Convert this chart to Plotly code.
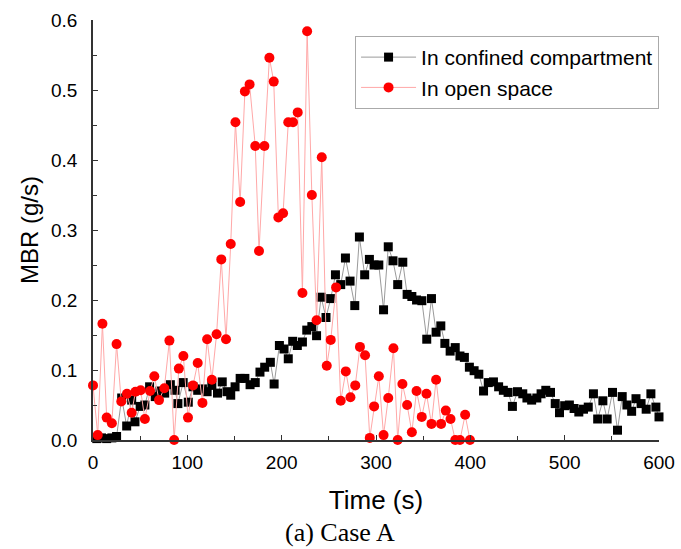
import plotly.graph_objects as go

# In confined compartment (black squares)
t_conf = [4, 9, 14.5, 20, 25, 30.4, 35.7, 41, 44.5, 50, 55, 60, 66, 71, 76, 82, 87, 90, 95.6, 101,
          106, 111, 116, 121, 126, 132, 137, 142, 146, 150.6, 156, 161, 166.5, 172, 177, 182, 188,
          192, 197.6, 202.5, 207, 211.7, 216.6, 222, 226.6, 232, 237, 241.8, 247, 252, 257, 262.6,
          267.6, 272.5, 277.5, 282.4, 288, 293, 298, 303, 308, 313, 318, 323, 328.4, 333, 338, 343,
          348.6, 353.8, 358.8, 363.7, 368.7, 373, 378.6, 384, 389, 393.7, 399, 404, 409, 414, 419,
          424.5, 430, 435, 440, 444.6, 450, 455.6, 460, 465, 470.5, 475, 480, 485, 490, 494.5, 500,
          505, 510, 515, 520, 525, 530.5, 535, 540.5, 545, 550.7, 556, 561, 566, 571, 575.6, 581,
          586.4, 591.4, 596.7, 600]
m_conf = [0.002, 0.003, 0.002, 0.003, 0.005, 0.060, 0.020, 0.057, 0.026, 0.048, 0.050, 0.076, 0.062,
          0.070, 0.067, 0.079, 0.071, 0.052, 0.082, 0.054, 0.076, 0.071, 0.073, 0.069, 0.078, 0.067,
          0.083, 0.069, 0.064, 0.076, 0.088, 0.088, 0.079, 0.082, 0.097, 0.104, 0.111, 0.080, 0.135,
          0.130, 0.116, 0.141, 0.135, 0.140, 0.157, 0.162, 0.149, 0.204, 0.175, 0.202, 0.236, 0.222,
          0.260, 0.227, 0.192, 0.290, 0.236, 0.258, 0.250, 0.250, 0.186, 0.276, 0.256, 0.222, 0.254,
          0.208, 0.205, 0.200, 0.199, 0.144, 0.202, 0.154, 0.163, 0.138, 0.127, 0.132, 0.120, 0.118,
          0.104, 0.099, 0.094, 0.070, 0.082, 0.083, 0.076, 0.071, 0.068, 0.048, 0.069, 0.066, 0.060,
          0.057, 0.060, 0.066, 0.071, 0.068, 0.052, 0.039, 0.049, 0.050, 0.045, 0.040, 0.044, 0.047,
          0.066, 0.030, 0.056, 0.030, 0.068, 0.014, 0.062, 0.050, 0.041, 0.059, 0.052, 0.044, 0.066,
          0.047, 0.033]

# In open space (red circles)
t_open = [0, 5, 10, 14.5, 20, 25, 30, 36, 41, 45, 50.5, 55, 60.5, 65, 70, 75.6, 81, 86, 91, 95.8,
          100.7, 106, 111, 116, 121, 126, 131, 136, 141, 146, 151, 156, 161, 166, 172, 176, 181.7,
          187, 191.6, 196.5, 201.5, 207, 212, 217, 222, 227, 232, 237, 242.5, 247.8, 252, 257.7,
          262.6, 268, 272.9, 278, 283, 288.4, 293.4, 298, 303, 308, 313, 318.5, 323, 328, 333, 338,
          343, 348.5, 353.5, 358.8, 363.7, 369, 374, 379, 384, 389, 394.5, 399.6]
m_open = [0.078, 0.007, 0.166, 0.032, 0.024, 0.137, 0.055, 0.066, 0.039, 0.069, 0.071, 0.030, 0.070,
          0.091, 0.057, 0.074, 0.142, 0.000, 0.102, 0.120, 0.032, 0.078, 0.110, 0.053, 0.144, 0.086,
          0.151, 0.258, 0.144, 0.280, 0.454, 0.340, 0.498, 0.508, 0.420, 0.270, 0.420, 0.546, 0.512,
          0.318, 0.324, 0.454, 0.454, 0.468, 0.210, 0.584, 0.350, 0.171, 0.404, 0.106, 0.143, 0.218,
          0.056, 0.098, 0.061, 0.078, 0.133, 0.121, 0.003, 0.048, 0.091, 0.007, 0.060, 0.131, 0.000,
          0.080, 0.050, 0.011, 0.070, 0.033, 0.066, 0.023, 0.086, 0.023, 0.042, 0.030, 0.000, 0.000,
          0.036, 0.000]

x_ticks = [0, 100, 200, 300, 400, 500, 600]
y_ticks = [0.0, 0.1, 0.2, 0.3, 0.4, 0.5, 0.6]

FONT = "Liberation Sans, Arial, sans-serif"

fig = go.Figure()
fig.add_trace(go.Scatter(
    x=t_conf, y=m_conf, mode="lines+markers", name="In confined compartment",
    line=dict(color="#9a9a9a", width=1),
    marker=dict(symbol="square", size=9, color="black"),
    cliponaxis=False,
))
fig.add_trace(go.Scatter(
    x=t_open, y=m_open, mode="lines+markers", name="In open space",
    line=dict(color="#ffa8a8", width=1),
    marker=dict(symbol="circle", size=10, color="#ff0000"),
    cliponaxis=False,
))

axis_common = dict(
    showline=True, linecolor="#333333", linewidth=1.5,
    ticks="inside", ticklen=5, tickwidth=1.2, tickcolor="#333333",
    showgrid=False, zeroline=False, mirror=False,
    tickfont=dict(family=FONT, size=19, color="black"),
)

fig.update_xaxes(
    range=[0, 600], tickvals=x_ticks, ticktext=[str(v) for v in x_ticks],
    minor=dict(ticks="inside", ticklen=4, tickwidth=1.2, tickcolor="#333333", dtick=50),
    title=dict(text="Time (s)", font=dict(family=FONT, size=26, color="black"), standoff=19),
    ticklabelstandoff=4,
    **axis_common,
)
fig.update_yaxes(
    range=[0, 0.6], tickvals=y_ticks, ticktext=[f"{v:.1f}" for v in y_ticks],
    minor=dict(ticks="inside", ticklen=4, tickwidth=1.2, tickcolor="#333333", dtick=0.05),
    title=dict(text="MBR (g/s)", font=dict(family=FONT, size=24, color="black"), standoff=6),
    ticklabelstandoff=10,
    **axis_common,
)

fig.update_layout(
    width=681, height=549,
    margin=dict(l=93, r=22, t=20, b=109, autoexpand=False),
    paper_bgcolor="white", plot_bgcolor="white",
    showlegend=True,
    legend=dict(
        x=0.463, y=0.962, xanchor="left", yanchor="top",
        bordercolor="#aaaaaa", borderwidth=1, bgcolor="white",
        font=dict(family=FONT, size=21, color="black"),
        itemwidth=55, tracegroupgap=0,
    ),
    annotations=[dict(
        text="(a) Case A", xref="paper", yref="paper", x=0.436, y=-0.2214,
        xanchor="center", yanchor="middle", showarrow=False,
        font=dict(family="Liberation Serif, Times New Roman, serif", size=26, color="black"),
    )],
)

fig.write_html("out.html", post_script="document.body.style.margin='0px';",
               config={"displayModeBar": False})
